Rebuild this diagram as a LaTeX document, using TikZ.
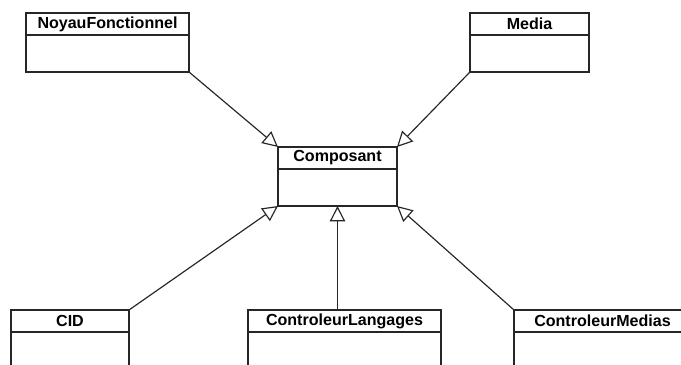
\documentclass[tikz,border=0pt]{standalone}
\usepackage{fontspec}
\setsansfont{Liberation Sans}
\usepackage{tikz}
\usetikzlibrary{arrows.meta,positioning,calc}

\begin{document}
\begin{tikzpicture}[
    head/.style={rectangle, draw=black!85, line width=1pt, outer sep=0pt, minimum height=0.66cm, inner sep=0pt, font=\sffamily\bfseries\fontsize{13.7}{16}\selectfont},
    body/.style={rectangle, draw=black!85, line width=1pt, outer sep=0pt, minimum height=1.11cm, inner sep=0pt},
    herit/.style={-{Triangle[open, length=0.46cm, width=0.46cm]}, draw=black!85, line width=1pt}
]
\useasboundingbox (0,0) rectangle (20.43,10.95);
\clip (0,0) rectangle (20.43,10.95);

% classes du haut
\node[head, minimum width=4.89cm] (noyau) at (3.225,10.23) {NoyauFonctionnel};
\node[body, minimum width=4.89cm, below=0pt of noyau] (noyaub) {};
\node[head, minimum width=3.57cm] (media) at (15.885,10.23) {Media};
\node[body, minimum width=3.57cm, below=0pt of media] (mediab) {};

% Composant
\node[head, minimum width=3.57cm] (comp) at (10.125,6.21) {Composant};
\node[body, minimum width=3.57cm, below=0pt of comp] (compb) {};

% classes du bas
\node[head, minimum width=3.54cm] (cid) at (2.1,1.32) {CID};
\node[body, minimum width=3.54cm, below=0pt of cid] (cidb) {};
\node[head, minimum width=5.79cm] (lang) at (10.335,1.32) {ControleurLangages};
\node[body, minimum width=5.79cm, below=0pt of lang] (langb) {};
\node[head, minimum width=5.31cm] (ctlmed) at (18.075,1.32) {ControleurMedias};
\node[body, minimum width=5.31cm, below=0pt of ctlmed] (ctlmedb) {};

% heritages
\draw[herit] (noyaub.south east) -- (comp.north west);
\draw[herit] (mediab.south west) -- (comp.north east);
\draw[herit] (cid.north east) -- (compb.south west);
\draw[herit] (lang.north -| compb.south) -- (compb.south);
\draw[herit] (ctlmed.north west) -- (compb.south east);

\end{tikzpicture}
\end{document}
